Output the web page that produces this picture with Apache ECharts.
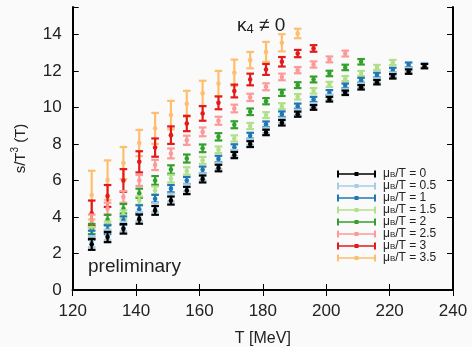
<!DOCTYPE html>
<html>
<head>
<meta charset="utf-8">
<script src="https://cdn.jsdelivr.net/npm/echarts@6/dist/echarts.min.js"></script>
<style>
  html, body { margin: 0; padding: 0; background: #fafafa; }
  #chart { width: 472px; height: 347px; }
</style>
</head>
<body>
<div id="chart"></div>
<script>
// temperatures (MeV)
const temps = [126, 131, 136, 141, 146, 151, 156, 161, 166, 171, 176, 181, 186, 191, 196, 201, 206, 211, 216, 221, 226, 231];

// s/T^3 for each muB/T, and the error bars
const mu00 = [2.5, 2.9, 3.35, 3.88, 4.36, 4.9, 5.45, 6.08, 6.68, 7.39, 7.99, 8.63, 9.16, 9.63, 10.0, 10.45, 10.8, 11.1, 11.38, 11.7, 11.96, 12.26];
const err00 = [0.3, 0.28, 0.26, 0.25, 0.24, 0.22, 0.2, 0.19, 0.18, 0.17, 0.16, 0.15, 0.15, 0.14, 0.13, 0.13, 0.12, 0.12, 0.12, 0.12, 0.12, 0.12];
const mu05 = [2.65, 3.02, 3.47, 4.02, 4.52, 5.06, 5.59, 6.2, 6.8, 7.5, 8.1, 8.74, 9.28, 9.74, 10.11, 10.55, 10.9, 11.2, 11.48, 11.79, 12.05, 12.32];
const err05 = [0.3, 0.28, 0.26, 0.25, 0.24, 0.22, 0.2, 0.19, 0.18, 0.17, 0.16, 0.15, 0.15, 0.14, 0.13, 0.13, 0.12, 0.12, 0.12, 0.12, 0.12, 0.12];
const mu10 = [3.0, 3.3, 3.8, 4.42, 5.0, 5.55, 6.0, 6.58, 7.18, 7.82, 8.45, 9.08, 9.63, 10.07, 10.44, 10.82, 11.18, 11.49, 11.77, 12.04, 12.33];
const err10 = [0.25, 0.24, 0.23, 0.22, 0.21, 0.2, 0.19, 0.18, 0.17, 0.16, 0.16, 0.15, 0.15, 0.14, 0.14, 0.13, 0.13, 0.13, 0.13, 0.13, 0.13];
const mu15 = [3.19, 3.5, 4.12, 4.9, 5.45, 6.1, 6.52, 7.1, 7.68, 8.3, 8.98, 9.58, 10.07, 10.58, 10.91, 11.26, 11.58, 11.86, 12.19, 12.46];
const err15 = [0.26, 0.25, 0.24, 0.23, 0.22, 0.21, 0.2, 0.19, 0.18, 0.17, 0.17, 0.16, 0.16, 0.15, 0.15, 0.14, 0.14, 0.14, 0.14, 0.14];
const mu20 = [3.34, 3.85, 4.45, 5.3, 6.0, 6.6, 7.2, 7.76, 8.39, 9.05, 9.76, 10.34, 10.8, 11.22, 11.53, 11.86, 12.19, 12.5];
const err20 = [0.28, 0.27, 0.26, 0.25, 0.24, 0.23, 0.22, 0.21, 0.2, 0.19, 0.18, 0.17, 0.17, 0.16, 0.16, 0.15, 0.15, 0.15];
const mu25 = [3.78, 4.45, 5.1, 6.0, 6.85, 7.48, 8.2, 8.66, 9.27, 9.94, 10.55, 11.13, 11.67, 12.04, 12.35, 12.63, 12.95];
const err25 = [0.35, 0.33, 0.32, 0.3, 0.28, 0.27, 0.25, 0.24, 0.22, 0.21, 0.2, 0.19, 0.18, 0.17, 0.17, 0.16, 0.16];
const mu30 = [4.2, 5.15, 6.0, 7.02, 7.8, 8.48, 9.12, 9.67, 10.25, 10.9, 11.53, 12.08, 12.5, 12.95, 13.23];
const err30 = [0.7, 0.6, 0.62, 0.58, 0.5, 0.48, 0.42, 0.4, 0.35, 0.35, 0.32, 0.3, 0.26, 0.2, 0.18];
const mu35 = [5.2, 6.02, 6.95, 8.05, 8.85, 9.58, 10.2, 10.77, 11.31, 11.9, 12.59, 13.04, 13.54, 14.05];
const err35 = [1.33, 1.08, 0.88, 0.72, 0.85, 0.78, 0.71, 0.69, 0.69, 0.72, 0.45, 0.55, 0.47, 0.26];

const muLabels = ['0', '0.5', '1', '1.5', '2', '2.5', '3', '3.5'];
const colors = ['#000000', '#a6cee3', '#1f78b4', '#b2df8a', '#33a02c', '#fb9a99', '#e31a1c', '#fdbf6f'];
const values = [mu00, mu05, mu10, mu15, mu20, mu25, mu30, mu35];
const errors = [err00, err05, err10, err15, err20, err25, err30, err35];

const xTicks = [120, 140, 160, 180, 200, 220, 240];
const yTicks = [0, 2, 4, 6, 8, 10, 12, 14];

const font = 'Liberation Sans';

// error bar: vertical line with caps and a small dot in the middle
function renderErr(params, api) {
  const mid = api.coord([api.value(0), api.value(1)]);
  const hi = api.coord([api.value(0), api.value(1) + api.value(2)]);
  const lo = api.coord([api.value(0), api.value(1) - api.value(2)]);
  const c = api.visual('color');
  const w = 3.8;
  const st = { stroke: c, lineWidth: 2.2 };
  return {
    type: 'group',
    children: [
      { type: 'line', shape: { x1: mid[0], y1: hi[1], x2: mid[0], y2: lo[1] }, style: st },
      { type: 'line', shape: { x1: mid[0] - w, y1: hi[1], x2: mid[0] + w, y2: hi[1] }, style: st },
      { type: 'line', shape: { x1: mid[0] - w, y1: lo[1], x2: mid[0] + w, y2: lo[1] }, style: st },
      { type: 'circle', shape: { cx: mid[0], cy: mid[1], r: 2.3 }, style: { fill: c } }
    ]
  };
}

// draw highest muB first so black ends on top
const series = [];
for (let k = values.length - 1; k >= 0; k--) {
  series.push({
    name: muLabels[k],
    type: 'custom',
    renderItem: renderErr,
    itemStyle: { color: colors[k] },
    encode: { x: 0, y: 1 },
    data: values[k].map((v, i) => [temps[i], v, errors[k][i]])
  });
}

const chart = echarts.init(document.getElementById('chart'));

// legend sample: bar with end caps and a dot, drawn 39 x 7
const legendIcon = 'path://M0,0h2v7h-2zM37,0h2v7h-2zM0,2.7h39v1.6h-39zM17.5,1.5h4v4h-4z';

const frameAxis = {
  axisLine: { show: true, lineStyle: { color: '#000', width: 2 } },
  axisTick: { show: true, inside: true, length: 6, lineStyle: { color: '#000', width: 1 } },
  splitLine: { show: false }
};

chart.setOption({
  backgroundColor: '#fafafa',
  animation: false,
  grid: { left: 72.7, right: 19, top: 7, bottom: 57, outerBoundsMode: 'none' },
  legend: {
    orient: 'vertical',
    left: 337,
    top: 168,
    padding: 0,
    itemWidth: 39,
    itemHeight: 7,
    itemGap: 0,
    data: muLabels.map(m => ({ name: m, icon: legendIcon })),
    formatter: name => '{t|μ}{s|B}{t|/T = ' + name + '}',
    textStyle: {
      padding: [0, 0, 0, 2],
      rich: {
        t: { fontFamily: font, fontSize: 12, color: '#222', lineHeight: 10, verticalAlign: 'middle' },
        s: { fontFamily: font, fontSize: 8, color: '#222', lineHeight: 6, verticalAlign: 'bottom' }
      }
    }
  },
  xAxis: [
    Object.assign({
      type: 'value', min: 120, max: 240, interval: 20,
      name: 'T [MeV]', nameLocation: 'middle', nameGap: 41,
      nameTextStyle: { fontFamily: font, fontSize: 16, color: '#222' },
      axisLabel: { fontFamily: font, fontSize: 17, color: '#222', margin: 13, formatter: v => xTicks.includes(v) ? String(v) : '' }
    }, frameAxis),
    Object.assign({
      type: 'value', position: 'top', min: 120, max: 240, interval: 20,
      axisLabel: { show: false }
    }, frameAxis)
  ],
  yAxis: [
    Object.assign({
      type: 'value', min: 0, max: 15.5, interval: 2,
      name: '{a|s/T}{b|3}{a| (T)}', nameLocation: 'middle', nameGap: 44,
      nameTextStyle: {
        rich: {
          a: { fontFamily: font, fontSize: 15, color: '#222', lineHeight: 18, verticalAlign: 'bottom' },
          b: { fontFamily: font, fontSize: 10, color: '#222', lineHeight: 10, verticalAlign: 'top' }
        }
      },
      axisLabel: { fontFamily: font, fontSize: 17, color: '#222', margin: 11, formatter: v => yTicks.includes(v) ? String(v) : '' }
    }, frameAxis),
    Object.assign({
      type: 'value', position: 'right', min: 0, max: 15.5, interval: 2,
      axisLabel: { show: false }
    }, frameAxis)
  ],
  graphic: [
    {
      type: 'text', left: 237, top: 16,
      style: {
        text: '{k|κ}{s|4}{k| ≠ 0}',
        rich: {
          k: { fontFamily: font, fontSize: 19, fill: '#222', lineHeight: 20, verticalAlign: 'top' },
          s: { fontFamily: font, fontSize: 13, fill: '#222', lineHeight: 13, verticalAlign: 'bottom' }
        }
      }
    },
    {
      type: 'text', left: 88, top: 257,
      style: { text: 'preliminary', fontFamily: font, fontSize: 19, fill: '#222' }
    }
  ],
  series: series
});
</script>
</body>
</html>
